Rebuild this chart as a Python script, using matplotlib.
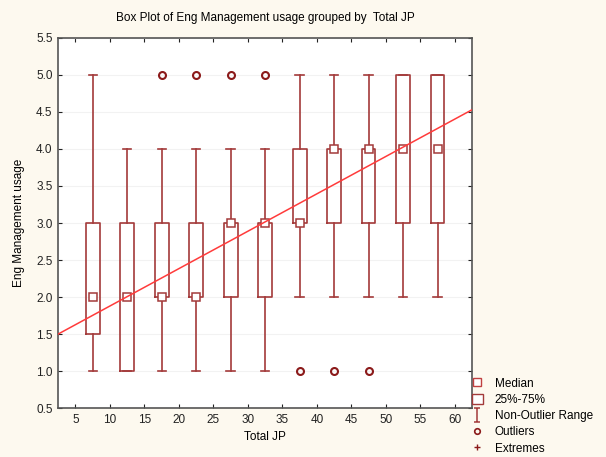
import numpy as np
import matplotlib
matplotlib.use("Agg")
import matplotlib.pyplot as plt
from matplotlib.lines import Line2D
from matplotlib.patches import Rectangle
from matplotlib.path import Path

plt.rcParams['font.family'] = ['Liberation Sans', 'DejaVu Sans']

# group centres on Total JP and the box statistics
positions = [7.5, 12.5, 17.5, 22.5, 27.5, 32.5, 37.5, 42.5, 47.5, 52.5, 57.5]
medians = [2, 2, 2, 2, 3, 3, 3, 4, 4, 4, 4]
q1 = [1.5, 1, 2, 2, 2, 2, 3, 3, 3, 3, 3]
q3 = [3, 3, 3, 3, 3, 3, 4, 4, 4, 5, 5]
whis_lo = [1, 1, 1, 1, 1, 1, 2, 2, 2, 2, 2]
whis_hi = [5, 4, 4, 4, 4, 4, 5, 5, 5, 5, 5]
outliers = [[], [], [5], [5], [5], [5], [1], [1], [1], [], []]

# fitted line y = a + b*x
fit_a = 1.374
fit_b = 0.0505

xticks = [5, 10, 15, 20, 25, 30, 35, 40, 45, 50, 55, 60]
yticks = [0.5, 1.0, 1.5, 2.0, 2.5, 3.0, 3.5, 4.0, 4.5, 5.0, 5.5]

boxc = '#a33a3a'
darkc = '#8b1a1a'
bg = '#fdf9ef'

fig = plt.figure(figsize=(6.06, 4.57), dpi=100, facecolor=bg)
ax = fig.add_axes([0.096, 0.107, 0.683, 0.81])
ax.set_facecolor('white')

stats = []
for i in range(len(positions)):
    stats.append(dict(med=medians[i], q1=q1[i], q3=q3[i],
                      whislo=whis_lo[i], whishi=whis_hi[i], fliers=outliers[i]))

ax.bxp(stats, positions=positions, widths=2.0, showfliers=True,
       boxprops=dict(color=boxc, linewidth=1.2),
       whiskerprops=dict(color=boxc, linewidth=1.2),
       capprops=dict(color=boxc, linewidth=1.2),
       medianprops=dict(linestyle='none'),
       flierprops=dict(marker='o', markersize=5, markerfacecolor='none',
                       markeredgecolor=darkc, markeredgewidth=1.5),
       capwidths=1.2, manage_ticks=False)

# median squares
ax.plot(positions, medians, linestyle='none', marker='s', markersize=6,
        markerfacecolor='white', markeredgecolor=boxc, markeredgewidth=1.1,
        zorder=4)

xl = np.array([2.5, 62.5])
ax.plot(xl, fit_a + fit_b * xl, color='#ff3b3b', linewidth=1.1, zorder=5)

ax.set_xlim(2.5, 62.5)
ax.set_ylim(0.5, 5.5)
ax.set_xticks(xticks)
ax.set_yticks(yticks)
ax.set_yticklabels(['%.1f' % v for v in yticks])
ax.yaxis.grid(True, color='#f2f2f2', linewidth=0.8)
ax.set_axisbelow(True)
ax.tick_params(direction='in', top=True, right=True, length=3, width=0.8,
               labelsize=8.5, colors='#222222', pad=4)
for s in ax.spines.values():
    s.set_color('#555555')
    s.set_linewidth(1.2)

ax.set_title('Box Plot of Eng Management usage grouped by  Total JP',
             fontsize=8.5, pad=12)
ax.set_xlabel('Total JP', fontsize=8.5, labelpad=4)
ax.set_ylabel('Eng Management usage', fontsize=8.5, labelpad=8)

# whisker-with-caps glyph for the legend
whisk = Path([(-0.5, -1), (0.5, -1), (0, -1), (0, 1), (-0.5, 1), (0.5, 1)],
             [Path.MOVETO, Path.LINETO, Path.MOVETO, Path.LINETO,
              Path.MOVETO, Path.LINETO])

handles = [
    Line2D([], [], linestyle='none', marker='s', markersize=6,
           markerfacecolor='white', markeredgecolor='#c04040'),
    Rectangle((0, 0), 1, 1, facecolor='white', edgecolor=boxc, linewidth=1),
    Line2D([], [], linestyle='none', marker=whisk, markersize=10,
           markerfacecolor='none', markeredgecolor=boxc, markeredgewidth=1.1),
    Line2D([], [], linestyle='none', marker='o', markersize=4,
           markerfacecolor='none', markeredgecolor=darkc, markeredgewidth=1.2),
    Line2D([], [], linestyle='none', marker='+', markersize=5,
           color=darkc),
]
labels = ['Median', '25%-75%', 'Non-Outlier Range', 'Outliers', 'Extremes']
fig.legend(handles, labels, loc='upper left', bbox_to_anchor=(0.779, 0.174),
           frameon=False, fontsize=8.5, handlelength=0.9, handleheight=1.0,
           handletextpad=1.0, labelspacing=0.33, borderaxespad=0, borderpad=0)

fig.savefig('out.png', dpi=100, facecolor=bg)
